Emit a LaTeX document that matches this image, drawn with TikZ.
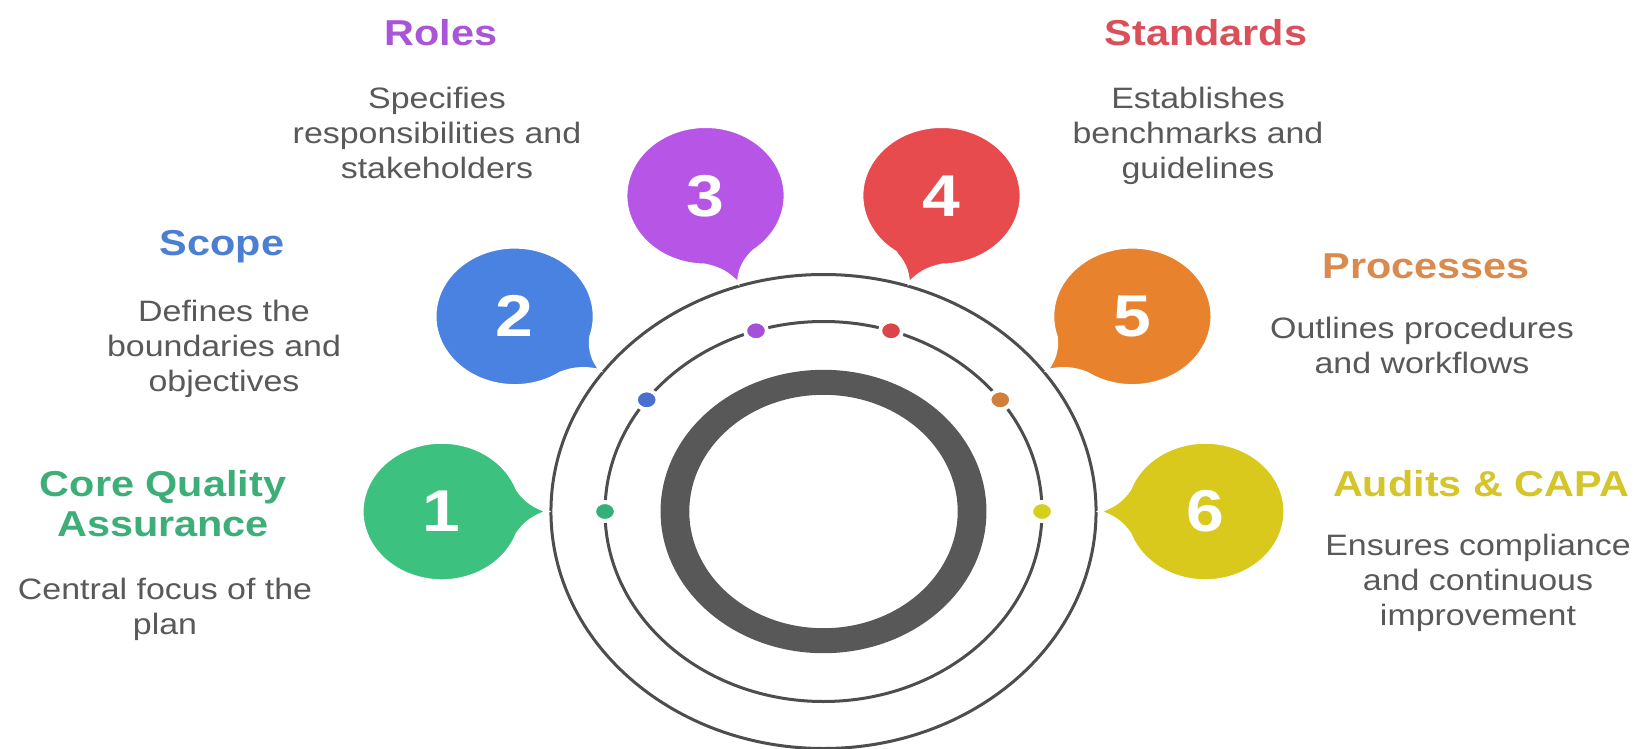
\documentclass[tikz,border=0pt]{standalone}
\usepackage{fontspec}
\setmainfont{Liberation Sans}
\definecolor{cgreen}{HTML}{3CC27E}
\definecolor{cblue}{HTML}{4A82E2}
\definecolor{cpurple}{HTML}{B655E6}
\definecolor{cred}{HTML}{E84B4D}
\definecolor{corange}{HTML}{E8822C}
\definecolor{cyellow}{HTML}{D8C91C}
\definecolor{tgreen}{HTML}{3DAE78}
\definecolor{tblue}{HTML}{4A7FD4}
\definecolor{tpurple}{HTML}{A855D8}
\definecolor{tred}{HTML}{D9505A}
\definecolor{torange}{HTML}{DA8A4C}
\definecolor{tyellow}{HTML}{D4C62A}
\definecolor{dgreen}{HTML}{35B07A}
\definecolor{dblue}{HTML}{4A6FD0}
\definecolor{dpurple}{HTML}{A64FD8}
\definecolor{dred}{HTML}{D94548}
\definecolor{dorange}{HTML}{D0803A}
\definecolor{dyellow}{HTML}{D5D020}
\definecolor{descgray}{HTML}{595959}
\definecolor{ringc}{HTML}{585858}
\definecolor{thinc}{HTML}{4D4D4D}
\begin{document}
\begin{tikzpicture}[x=1pt,y=-1pt,
  ttl/.style={font=\fontsize{36}{40}\selectfont\bfseries, align=center, inner sep=0pt, anchor=base, xscale=1.15},
  dsc/.style={font=\fontsize{29.5}{35}\selectfont, text=descgray, align=center, inner sep=0pt, anchor=base, xscale=1.15},
  num/.style={font=\fontsize{59}{59}\selectfont\bfseries, text=white, inner sep=0pt, xscale=1.15},
  thin ring/.style={draw=thinc, line width=3pt},
  dotmark/.style={draw=white, line width=4pt},
  bubbleshape/.style={draw=white, line width=2.5pt}]
\useasboundingbox (0,0) rectangle (1640,749);
\fill[white] (0,0) rectangle (1640,749);
% rings
\begin{scope}[shift={(823.5,511.5)}, xscale=1.15]
  \coordinate (ctr) at (0,0);
  \draw[thin ring] (ctr) circle[radius=237];
  \draw[thin ring] (ctr) circle[radius=190];
  \fill[ringc, even odd rule] (ctr) circle[radius=141.7] (ctr) circle[radius=116.7];
  \foreach \a/\col/\i in {180/dgreen/1,-144/dblue/2,-108/dpurple/3,-72/dred/4,-36/dorange/5,0/dyellow/6}{
    \fill[\col, dotmark] (\a:190) circle[radius=9.5];
    \coordinate (dot\i) at (\a:190);
  }
\end{scope}
% bubbles
\foreach \a/\col/\i in {180/cgreen/1,-144/cblue/2,-108/cpurple/3,-72/cred/4,-36/corange/5,0/cyellow/6}{
  \pgfmathsetmacro\bx{823.5+1.15*332*cos(\a)}
  \pgfmathsetmacro\by{511.5+332*sin(\a)}
  \pgfmathsetmacro\tp{\a+180}
  \begin{scope}[shift={(\bx,\by)}, xscale=1.15]
    \fill[\col, bubbleshape] (\tp+19:69) arc[start angle=\tp+19, end angle=\tp+341, radius=69]
      .. controls (\tp-8:73) and (\tp-3:81) .. (\tp:92)
      .. controls (\tp+3:81) and (\tp+8:73) .. cycle;
    \node[num] (n\i) at (0,0) {\i};
  \end{scope}
}
% titles (anchor = baseline of the last line)
\node[ttl, text=tpurple] (troles) at (441,46) {Roles};
\node[ttl, text=tred] (tstand) at (1206,46) {Standards};
\node[ttl, text=tblue] (tscope) at (222,255) {Scope};
\node[ttl, text=torange] (tproc) at (1426,278) {Processes};
\node[ttl, text=tgreen] (tcore) at (163,536) {Core Quality\\Assurance};
\node[ttl, text=tyellow] (taudit) at (1481,496) {Audits \& CAPA};
% descriptions
\node[dsc] (droles) at (437,178) {Specifies\\responsibilities and\\stakeholders};
\node[dsc] (dstand) at (1198,178) {Establishes\\benchmarks and\\guidelines};
\node[dsc] (dscope) at (224,391) {Defines the\\boundaries and\\objectives};
\node[dsc] (dproc) at (1422,373) {Outlines procedures\\and workflows};
\node[dsc] (dcore) at (165,634) {Central focus of the\\plan};
\node[dsc] (daudit) at (1478,625) {Ensures compliance\\and continuous\\improvement};
\end{tikzpicture}
\end{document}
